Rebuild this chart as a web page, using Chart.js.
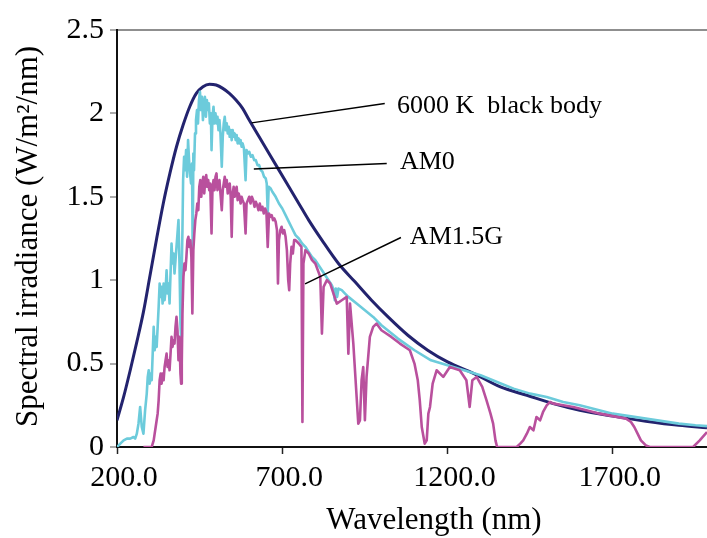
<!DOCTYPE html>
<html lang="en">
<head>
    <meta charset="UTF-8">
    <script src="https://cdn.jsdelivr.net/npm/chart.js"></script>
    <title>Solar spectrum</title>
    <style>
        html, body { margin: 0; padding: 0; background: #fff; }
        #spectrum { display: block; }
    </style>
</head>
<body>
    <canvas id="spectrum" width="707" height="538"></canvas>

    <script>
        // [wavelength nm, irradiance W/m2/nm]

        // 6000 K black body curve
        const blackBody = [
            [200, 0.16], [220, 0.30], [240, 0.46], [260, 0.63], [280, 0.81], [300, 1.03], [320, 1.25], [340, 1.46],
            [360, 1.64], [380, 1.80], [400, 1.93], [420, 2.04], [440, 2.12], [460, 2.16], [480, 2.175], [500, 2.17],
            [520, 2.15], [540, 2.12], [560, 2.08], [580, 2.03], [600, 1.96], [630, 1.86], [660, 1.76], [690, 1.66],
            [720, 1.56], [750, 1.46], [780, 1.36], [820, 1.24], [870, 1.10], [920, 0.99], [970, 0.88], [1020, 0.78],
            [1080, 0.67], [1140, 0.58], [1200, 0.51], [1280, 0.44], [1360, 0.36], [1440, 0.31], [1520, 0.26],
            [1600, 0.22], [1700, 0.185], [1800, 0.155], [1900, 0.13], [1985, 0.115]
        ];

        // AM0 extraterrestrial spectrum
        const am0 = [
            [200, 0.00], [210, 0.02], [220, 0.04], [230, 0.05], [240, 0.05], [250, 0.06], [255, 0.05], [260, 0.08],
            [265, 0.14], [270, 0.24], [275, 0.12], [280, 0.08], [285, 0.22], [290, 0.32], [293, 0.42], [296, 0.46],
            [299, 0.38], [302, 0.44], [305, 0.40], [308, 0.56], [311, 0.72], [314, 0.58], [317, 0.66], [320, 0.60],
            [323, 0.72], [326, 0.84], [329, 0.98], [332, 0.90], [335, 0.96], [338, 0.86], [341, 0.98], [344, 0.88],
            [347, 0.94], [350, 1.06], [353, 0.92], [356, 0.98], [359, 0.86], [362, 1.04], [365, 1.22], [368, 1.10],
            [371, 1.16], [374, 1.04], [377, 1.12], [380, 1.20], [383, 1.28], [386, 1.36], [389, 1.10], [392, 0.74],
            [394, 0.66], [396, 1.08], [398, 1.30], [400, 1.60], [403, 1.74], [406, 1.66], [409, 1.78], [412, 1.62],
            [415, 1.84], [418, 1.72], [421, 1.64], [424, 1.58], [427, 1.70], [429, 1.14], [431, 1.76], [433, 1.66],
            [436, 1.88], [439, 1.96], [442, 2.02], [445, 1.94], [448, 2.08], [451, 2.13], [454, 2.02], [457, 2.10],
            [460, 1.96], [463, 2.06], [466, 2.10], [469, 1.98], [472, 2.08], [475, 2.02], [478, 2.06], [481, 1.94],
            [484, 2.00], [486, 1.78], [489, 1.98], [492, 2.04], [495, 1.94], [498, 2.00], [501, 1.94], [504, 1.98],
            [507, 1.90], [510, 1.96], [513, 1.88], [517, 1.68], [520, 1.86], [523, 1.94], [526, 1.98], [529, 1.90],
            [532, 1.94], [535, 1.88], [538, 1.92], [541, 1.86], [544, 1.90], [547, 1.84], [550, 1.90], [553, 1.86],
            [556, 1.88], [559, 1.84], [562, 1.87], [565, 1.82], [568, 1.85], [571, 1.82], [574, 1.84], [577, 1.80],
            [580, 1.82], [584, 1.79], [589, 1.60], [592, 1.78], [596, 1.76], [600, 1.77], [605, 1.74], [610, 1.75],
            [615, 1.72], [620, 1.72], [625, 1.69], [630, 1.69], [635, 1.66], [640, 1.65], [645, 1.62], [650, 1.61],
            [653, 1.58], [656, 1.40], [659, 1.56], [665, 1.55], [670, 1.53], [680, 1.50], [690, 1.46], [700, 1.43],
            [710, 1.39], [720, 1.35], [730, 1.31], [740, 1.27], [750, 1.25], [760, 1.22], [770, 1.20], [780, 1.17],
            [790, 1.14], [800, 1.12], [810, 1.09], [820, 1.06], [830, 1.03], [840, 1.00], [850, 0.97], [854, 0.95],
            [859, 0.88], [862, 0.95], [866, 0.90], [870, 0.95], [880, 0.94], [890, 0.92], [900, 0.90], [925, 0.86],
            [950, 0.82], [975, 0.78], [1000, 0.73], [1050, 0.65], [1100, 0.58], [1150, 0.52], [1200, 0.49],
            [1250, 0.46], [1300, 0.43], [1350, 0.39], [1400, 0.35], [1450, 0.32], [1500, 0.30], [1550, 0.27],
            [1600, 0.25], [1650, 0.225], [1700, 0.20], [1750, 0.185], [1800, 0.17], [1850, 0.155], [1900, 0.14],
            [1950, 0.13], [1985, 0.125]
        ];

        // AM1.5G terrestrial spectrum
        const am15g = [
            [280, 0.00], [305, 0.00], [308, 0.02], [311, 0.04], [314, 0.08], [317, 0.12], [320, 0.16], [323, 0.20],
            [326, 0.28], [329, 0.40], [332, 0.44], [335, 0.38], [338, 0.44], [341, 0.40], [344, 0.48], [347, 0.52],
            [350, 0.56], [353, 0.48], [356, 0.52], [359, 0.46], [362, 0.56], [365, 0.66], [368, 0.60], [371, 0.64],
            [374, 0.62], [377, 0.72], [380, 0.78], [383, 0.70], [386, 0.52], [389, 0.66], [392, 0.44], [394, 0.38],
            [396, 0.50], [398, 0.80], [401, 1.02], [404, 1.10], [407, 1.06], [410, 1.14], [413, 1.24], [416, 1.26],
            [419, 1.20], [422, 1.24], [425, 1.14], [428, 0.80], [431, 1.18], [434, 1.28], [437, 1.36], [440, 1.40],
            [443, 1.46], [446, 1.42], [449, 1.56], [452, 1.60], [455, 1.50], [458, 1.58], [461, 1.62], [464, 1.52],
            [467, 1.60], [470, 1.63], [473, 1.56], [476, 1.60], [479, 1.54], [482, 1.58], [486, 1.28], [489, 1.56],
            [492, 1.60], [495, 1.54], [498, 1.62], [501, 1.64], [504, 1.54], [507, 1.58], [510, 1.60], [513, 1.52],
            [517, 1.42], [520, 1.54], [523, 1.58], [526, 1.62], [529, 1.56], [532, 1.60], [535, 1.52], [538, 1.56],
            [541, 1.58], [544, 1.50], [547, 1.26], [550, 1.52], [553, 1.56], [556, 1.50], [559, 1.54], [562, 1.56],
            [565, 1.48], [568, 1.52], [571, 1.50], [574, 1.46], [577, 1.50], [580, 1.48], [584, 1.46], [589, 1.28],
            [592, 1.46], [596, 1.48], [600, 1.50], [604, 1.46], [608, 1.50], [612, 1.48], [616, 1.44], [620, 1.47],
            [624, 1.45], [628, 1.42], [632, 1.46], [636, 1.42], [640, 1.44], [644, 1.40], [648, 1.43], [652, 1.41],
            [656, 1.20], [660, 1.40], [664, 1.38], [668, 1.39], [672, 1.36], [676, 1.37], [680, 1.35], [684, 1.30],
            [687, 0.98], [690, 1.24], [694, 1.30], [698, 1.32], [702, 1.28], [706, 1.30], [710, 1.26], [714, 1.18],
            [718, 1.00], [721, 0.94], [724, 1.10], [728, 1.20], [732, 1.16], [736, 1.24], [740, 1.24], [750, 1.22],
            [758, 1.20], [761, 0.15], [764, 1.10], [770, 1.18], [780, 1.16], [790, 1.12], [800, 1.10], [815, 1.02],
            [820, 0.68], [825, 0.96], [835, 1.00], [845, 0.98], [855, 0.92], [865, 0.86], [880, 0.88], [895, 0.90],
            [900, 0.56], [905, 0.86], [915, 0.62], [925, 0.30], [930, 0.14], [935, 0.16], [940, 0.40], [945, 0.48],
            [950, 0.16], [955, 0.42], [965, 0.66], [975, 0.72], [985, 0.74], [1000, 0.70], [1030, 0.66], [1056, 0.62],
            [1086, 0.58], [1100, 0.50], [1110, 0.40], [1116, 0.28], [1122, 0.12], [1131, 0.02], [1137, 0.04],
            [1142, 0.20], [1147, 0.24], [1155, 0.38], [1167, 0.46], [1187, 0.42], [1207, 0.48], [1237, 0.46],
            [1257, 0.40], [1267, 0.24], [1275, 0.40], [1288, 0.42], [1305, 0.36], [1318, 0.28], [1330, 0.20],
            [1338, 0.14], [1345, 0.04], [1350, 0.00], [1409, 0.00], [1420, 0.02], [1429, 0.04], [1440, 0.08],
            [1449, 0.12], [1460, 0.10], [1469, 0.18], [1480, 0.16], [1489, 0.21], [1500, 0.25], [1510, 0.27],
            [1520, 0.26], [1550, 0.25], [1580, 0.24], [1620, 0.22], [1660, 0.20], [1700, 0.185], [1740, 0.17],
            [1755, 0.15], [1765, 0.12], [1775, 0.08], [1785, 0.04], [1800, 0.01], [1812, 0.00], [1943, 0.00],
            [1963, 0.04], [1985, 0.09]
        ];

        const xTicks = [200, 700, 1200, 1700];
        const yTicks = [0, 0.5, 1, 1.5, 2, 2.5];

        // curve labels with their leader lines, in data units
        const noteText = ['6000 K  black body', 'AM0', 'AM1.5G'];
        const noteFrom = [[607, 1.943], [614, 1.667], [769, 0.978]];
        const noteTo   = [[1010, 2.059], [1016, 1.700], [1059, 1.256]];
        const noteAt   = [[1047, 2.043], [1056, 1.705], [1086, 1.260]];

        const serif = '"Liberation Serif", "DejaVu Serif", serif';

        const toPoints = rows => rows.map(r => ({ x: r[0], y: r[1] }));

        const curveNotes = {
            id: 'curveNotes',
            afterDatasetsDraw(chart) {
                const { ctx, scales: { x, y } } = chart;
                ctx.save();
                ctx.strokeStyle = '#000';
                ctx.lineWidth = 1.4;
                ctx.fillStyle = '#000';
                ctx.font = '26px ' + serif;
                ctx.textBaseline = 'middle';
                ctx.textAlign = 'left';
                noteText.forEach((t, i) => {
                    ctx.beginPath();
                    ctx.moveTo(x.getPixelForValue(noteFrom[i][0]), y.getPixelForValue(noteFrom[i][1]));
                    ctx.lineTo(x.getPixelForValue(noteTo[i][0]), y.getPixelForValue(noteTo[i][1]));
                    ctx.stroke();
                    ctx.fillText(t, x.getPixelForValue(noteAt[i][0]), y.getPixelForValue(noteAt[i][1]));
                });
                ctx.restore();
            }
        };

        // axis titles drawn by hand so they can sit where they belong
        const axisTitles = {
            id: 'axisTitles',
            afterDraw(chart) {
                const { ctx, chartArea } = chart;
                ctx.save();
                ctx.fillStyle = '#000';
                ctx.font = '31px ' + serif;
                ctx.textAlign = 'center';
                ctx.textBaseline = 'middle';
                ctx.fillText('Wavelength (nm)', chartArea.left + 317, chartArea.bottom + 74);
                ctx.translate(29, (chartArea.top + chartArea.bottom) / 2 - 2);
                ctx.rotate(-Math.PI / 2);
                ctx.fillText('Spectral irradiance (W/m\u00B2/nm)', 0, 0);
                ctx.restore();
            }
        };

        new Chart(document.getElementById('spectrum').getContext('2d'), {
            type: 'line',
            data: {
                datasets: [
                    {
                        label: 'AM1.5G',
                        data: toPoints(am15g),
                        borderColor: '#b9509d',
                        borderWidth: 2.6
                    },
                    {
                        label: 'AM0',
                        data: toPoints(am0),
                        borderColor: '#6ccbdb',
                        borderWidth: 2.6
                    },
                    {
                        label: '6000 K black body',
                        data: toPoints(blackBody),
                        borderColor: '#23236e',
                        borderWidth: 3,
                        cubicInterpolationMode: 'monotone'
                    }
                ]
            },
            options: {
                responsive: false,
                animation: false,
                devicePixelRatio: 1,
                elements: { point: { radius: 0 }, line: { borderJoinStyle: 'round' } },
                layout: { padding: { top: 30, right: 0, left: 0, bottom: 0 } },
                plugins: {
                    legend: { display: false },
                    tooltip: { enabled: false }
                },
                scales: {
                    x: {
                        type: 'linear',
                        min: 200,
                        max: 1985,
                        afterBuildTicks: s => { s.ticks = xTicks.map(v => ({ value: v })); },
                        afterFit: s => { s.height = 91; },
                        border: { color: '#111', width: 2 },
                        grid: { drawOnChartArea: false, tickLength: 7, tickColor: '#222', tickWidth: 1.5 },
                        ticks: {
                            color: '#000',
                            font: { family: serif, size: 30 },
                            padding: 6,
                            labelOffset: 7,
                            maxRotation: 0,
                            callback: v => Number(v).toFixed(1)
                        }
                    },
                    y: {
                        min: 0,
                        max: 2.5,
                        afterBuildTicks: s => { s.ticks = yTicks.map(v => ({ value: v })); },
                        afterFit: s => { s.width = 117; },
                        border: { color: '#111', width: 2 },
                        grid: {
                            color: c => (c.tick && c.tick.value === 2.5 ? '#8f8f8f' : 'transparent'),
                            lineWidth: 2,
                            tickColor: '#8f8f8f',
                            tickLength: 7,
                            tickWidth: 1.5
                        },
                        ticks: {
                            color: '#000',
                            font: { family: serif, size: 30 },
                            padding: 6,
                            callback: v => String(v)
                        }
                    }
                }
            },
            plugins: [curveNotes, axisTitles]
        });
    </script>
</body>
</html>
